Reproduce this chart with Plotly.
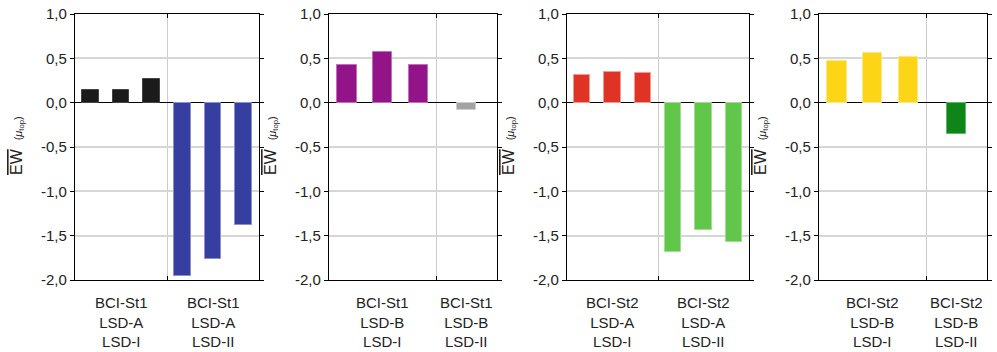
import plotly.graph_objects as go

# ---------------- data ----------------
p1_groups = ["BCI-St1<br>LSD-A<br>LSD-I", "BCI-St1<br>LSD-A<br>LSD-II"]
p1_g1 = [0.14, 0.14, 0.27]
p1_g2 = [-1.95, -1.76, -1.38]

p2_groups = ["BCI-St1<br>LSD-B<br>LSD-I", "BCI-St1<br>LSD-B<br>LSD-II"]
p2_g1 = [0.43, 0.57, 0.43]
p2_g2 = [-0.08]

p3_groups = ["BCI-St2<br>LSD-A<br>LSD-I", "BCI-St2<br>LSD-A<br>LSD-II"]
p3_g1 = [0.31, 0.35, 0.34]
p3_g2 = [-1.68, -1.44, -1.57]

p4_groups = ["BCI-St2<br>LSD-B<br>LSD-I", "BCI-St2<br>LSD-B<br>LSD-II"]
p4_g1 = [0.47, 0.56, 0.51]
p4_g2 = [-0.35]

y_tickvals = [-2.0, -1.5, -1.0, -0.5, 0.0, 0.5, 1.0]
y_ticktext = ["-2,0", "-1,5", "-1,0", "-0,5", "0,0", "0,5", "1,0"]

# ---------------- style ----------------
FONT = "Liberation Sans, Arial, sans-serif"
TXT = "#222222"
W, H = 997, 352
panels = [
    dict(groups=p1_groups, g1=p1_g1, g2=p1_g2, c1="#1b1b1b", e1="#444444", c2="#363f9f", e2="#8a90cc", px=(75, 259)),
    dict(groups=p2_groups, g1=p2_g1, g2=p2_g2, c1="#931489", e1="#c070b8", c2="#a3a3a3", e2="#cfcfcf", px=(329, 497)),
    dict(groups=p3_groups, g1=p3_g1, g2=p3_g2, c1="#df3326", e1="#f09a90", c2="#62c64b", e2="#9ee08e", px=(567, 749)),
    dict(groups=p4_groups, g1=p4_g1, g2=p4_g2, c1="#fcd616", e1="#fde787", c2="#0f8418", e2="#5cb863", px=(819, 987)),
]
y_dom = [1 - 280 / H, 1 - 14 / H]
BAR_W = 0.54

fig = go.Figure()
annotations = []
for i, p in enumerate(panels):
    n = i + 1
    xa = "x" if n == 1 else f"x{n}"
    ya = "y" if n == 1 else f"y{n}"
    n1, n2 = len(p["g1"]), len(p["g2"])
    x1 = [k + 1 for k in range(n1)]
    div = n1 + 0.5
    span2 = n2 if n2 > 1 else 1.7
    x2 = [div + (k + 0.5) * span2 / n2 for k in range(n2)]
    xmax = div + span2
    fig.add_trace(go.Bar(x=x1, y=p["g1"], width=BAR_W, marker=dict(color=p["c1"], line=dict(color=p["e1"], width=1)),
                         xaxis=xa, yaxis=ya, showlegend=False))
    fig.add_trace(go.Bar(x=x2, y=p["g2"], width=BAR_W, marker=dict(color=p["c2"], line=dict(color=p["e2"], width=1)),
                         xaxis=xa, yaxis=ya, showlegend=False))
    xdom = [p["px"][0] / W, p["px"][1] / W]
    fig.layout[f"xaxis{'' if n == 1 else n}"] = dict(
        domain=xdom, range=[0.5, xmax], anchor=ya,
        tickvals=[div], showticklabels=False, ticks="inside", ticklen=4, tickwidth=1.2, tickcolor="black",
        showgrid=True, gridcolor="#cccccc", gridwidth=1.2,
        showline=True, linecolor="black", linewidth=1.3, mirror="ticks", zeroline=False, fixedrange=True,
        automargin=False,
    )
    fig.layout[f"yaxis{'' if n == 1 else n}"] = dict(
        domain=y_dom, range=[-2.0, 1.0], anchor=xa,
        tickvals=y_tickvals, ticktext=y_ticktext, ticks="outside", ticklen=4, tickwidth=1.2, tickcolor="black",
        showgrid=True, gridcolor="#d6d6d6", gridwidth=1.5,
        zeroline=True, zerolinecolor="black", zerolinewidth=1.3,
        showline=True, linecolor="black", linewidth=1.3, mirror="ticks",
        tickfont=dict(size=15, color=TXT, family=FONT), fixedrange=True,
        automargin=False,
    )
    # group labels
    centers = [(1 + n1) / 2, div + span2 / 2]
    for gx, gl in zip(centers, p["groups"]):
        annotations.append(dict(x=gx, xref=xa, y=1 - 292 / H, yref="paper", yanchor="top", xanchor="center",
                                text=gl, showarrow=False, align="center",
                                font=dict(size=15, color=TXT, family=FONT)))
    # y title
    annotations.append(dict(x=(p["px"][0] - 58) / W, xref="paper", y=1 - 146 / H, yref="paper",
                            xanchor="center", yanchor="middle", textangle=-90, showarrow=False,
                            text="<span style='text-decoration:overline'>EW</span>  "
                                 "<span style='font-size:11px'>(<i>μ</i><sub>top</sub>)</span>",
                            font=dict(size=16, color=TXT, family=FONT)))

fig.update_layout(
    width=W, height=H, margin=dict(l=0, r=0, t=0, b=0, pad=0), autosize=False,
    paper_bgcolor="white", plot_bgcolor="white",
    bargap=0, barmode="overlay",
    separators=",.",
    annotations=annotations,
    font=dict(family=FONT, color=TXT),
)
fig.write_html("out.html", config={"displayModeBar": False},
               post_script="document.body.style.margin='0';document.body.style.overflow='hidden';")
